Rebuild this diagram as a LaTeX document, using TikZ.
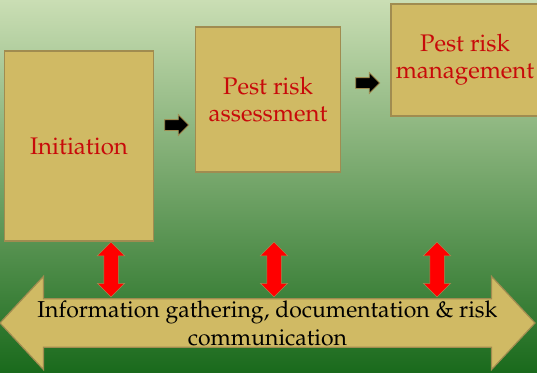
\documentclass[tikz,border=0pt]{standalone}
\usepackage[T1]{fontenc}
\usepackage{mathpazo}
\usepackage{xcolor}
\usepackage{tikz}
\usetikzlibrary{arrows.meta,positioning,shapes.arrows,calc}
\definecolor{boxfill}{RGB}{208,186,100}
\definecolor{boxline}{RGB}{160,140,80}
\definecolor{labelred}{RGB}{200,10,10}
\definecolor{bgtop}{RGB}{202,222,180}
\definecolor{bgmid}{RGB}{150,186,110}
\definecolor{bgbot}{RGB}{26,106,28}

\begin{document}
\begin{tikzpicture}[
  x=1pt, y=-1pt,
  stage/.style={draw=boxline, line width=1.2pt, fill=boxfill, align=center, text=labelred, font=\fontsize{24}{27}\selectfont, inner sep=0pt},
  nextarrow/.style={single arrow, draw=boxline, line width=0.8pt, fill=black, minimum height=24pt, inner xsep=0pt, inner ysep=5pt, single arrow head extend=5pt},
  linkarrow/.style={double arrow, rotate=90, draw=boxline, line width=0.5pt, fill=red, minimum height=55pt, inner xsep=0pt, inner ysep=7pt, double arrow head extend=6.5pt},
  infoarrow/.style={double arrow, draw=boxline, line width=1.2pt, fill=boxfill, minimum height=535pt, inner xsep=0pt, inner ysep=1pt, double arrow head extend=22.5pt, double arrow tip angle=94, align=center, font=\fontsize{23}{28}\selectfont}
]

  % background
  \useasboundingbox (0,0) rectangle (537,372);
  \shade[top color=bgtop, middle color=bgmid, bottom color=bgbot] (0,0) rectangle (537,372);

  % stages
  \node[stage, minimum width=149.5pt, minimum height=190pt] (init) at (79,146) {Initiation};
  \node[stage, minimum width=144.5pt, minimum height=145pt] (assess) at (268,99.5) {Pest risk\\assessment};
  \node[stage, minimum width=148pt, minimum height=112pt] (manage) at (465,60) {Pest risk\\management};

  % small arrows between stages
  \node[nextarrow] (step1) at (174,125) {};
  \node[nextarrow] (step2) at (365,83) {};

  % information band
  \node[infoarrow] (info) at (267.5,323) {Information gathering, documentation \& risk\\communication};

  % links to the band
  \node[linkarrow] (link1) at (111,269.5) {};
  \node[linkarrow] (link2) at (274,269.5) {};
  \node[linkarrow] (link3) at (437,269.5) {};

\end{tikzpicture}
\end{document}
